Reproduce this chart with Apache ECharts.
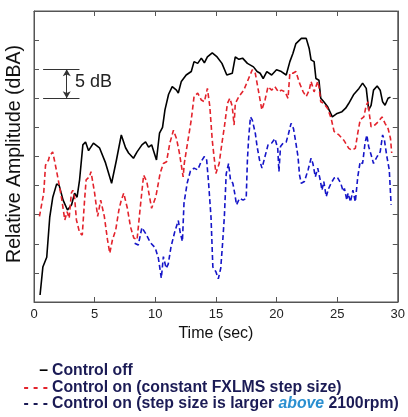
<!DOCTYPE html>
<html>
<head>
<meta charset="utf-8">
<script src="https://cdn.jsdelivr.net/npm/echarts@6/dist/echarts.min.js"></script>
<style>
  html, body { margin: 0; padding: 0; background: #fff; }
  #chart { width: 408px; height: 417px; }
</style>
</head>
<body>
<div id="chart"></div>
<script>
// relative amplitude vs time, three control cases
var names = [
    'Control off',
    'Control on (constant FXLMS step size)',
    'Control on (step size is larger above 2100rpm)'
];
// the legend keys are typed characters in the original figure
var keys = ['\u2013', '- - -', '- - -'];

var xTicks = [0, 5, 10, 15, 20, 25, 30];

// control off
var offT = [0.5, 0.73, 1.05, 1.3, 1.55, 1.87, 2.08, 2.4, 2.76, 3.1, 3.35, 3.55, 3.76, 4.03, 4.25, 4.5, 4.9, 5.4, 5.9, 6.4,
    6.8, 7.2, 7.55, 7.8, 8.2, 8.5, 8.9, 9.2, 9.45, 9.7, 10.1, 10.35, 10.6, 10.8, 11.1, 11.4, 11.75, 11.9, 12.15, 12.55,
    12.97, 13.2, 13.5, 13.8, 14.05, 14.3, 14.7, 15.1, 15.5, 15.9, 16.35, 16.6, 16.9, 17.2, 17.6, 17.85, 18.1, 18.4, 18.65, 18.9,
    19.2, 19.6, 20.0, 20.4, 20.8, 21.1, 21.35, 21.6, 22.05, 22.45, 22.7, 22.85, 23.1, 23.25, 23.5, 23.65, 23.9, 24.2, 24.6, 25.0,
    25.4, 25.7, 25.95, 26.35, 26.8, 27.1, 27.4, 27.6, 27.8, 28.0, 28.3, 28.55, 28.75, 28.95, 29.2, 29.4];
var offV = [1.2, 6, 7.7, 14.6, 18, 20.3, 20, 17.5, 15.8, 16.7, 18.7, 18, 21, 27, 27.5, 26, 27.3, 26.5, 23.9, 20.4,
    24.4, 28.7, 26.5, 25.6, 24.7, 25.8, 27, 27.5, 26.6, 27, 24.4, 29, 30, 33, 35.7, 37, 36.4, 35.9, 37.9, 39,
    39.6, 41.3, 41, 41.9, 41.1, 42.1, 42.8, 42.1, 41, 39, 39.3, 42.1, 41.7, 41.9, 41, 40.7, 40.4, 39.6, 39.3, 38.4,
    39.6, 39, 39.9, 39.6, 39, 41.3, 42.7, 44.4, 45.3, 45.3, 43.5, 41.6, 41.3, 38.4, 38.1, 35, 34.4, 33.6, 31.8, 32.4,
    32.7, 33.3, 34.1, 35.6, 36.7, 37.6, 36.7, 33, 33.8, 36.4, 37.1, 36.4, 34.4, 33.8, 35, 35.2];

// control on, constant step size
var constT = [0.45, 0.8, 0.95, 1.2, 1.27, 1.54, 1.73, 2.0, 2.27, 2.54, 2.73, 2.9, 3.08, 3.2, 3.35, 3.5, 3.76, 3.98, 4.17, 4.3,
    4.57, 4.7, 5.0, 5.25, 5.5, 5.8, 6.06, 6.25, 6.47, 6.74, 7.0, 7.2, 7.4, 7.7, 7.96, 8.23, 8.5, 8.77, 9.04, 9.3,
    9.7, 10.05, 10.4, 10.67, 10.93, 11.2, 11.5, 11.75, 12.0, 12.3, 12.4, 12.7, 12.97, 13.2, 13.5, 13.8, 14.05, 14.3, 14.5, 14.7,
    15.0, 15.27, 15.5, 15.7, 15.95, 16.15, 16.35, 16.5, 16.6, 16.9, 17.3, 17.7, 18.0, 18.25, 18.5, 18.79, 19.05, 19.3, 19.6, 19.87,
    20.15, 20.4, 20.7, 20.95, 21.1, 21.35, 21.6, 21.9, 22.2, 22.45, 22.7, 22.85, 23.1, 23.4, 23.5, 23.65, 23.9, 24.2, 24.5, 24.75,
    25.15, 25.55, 25.96, 26.2, 26.5, 26.7, 26.9, 27.2, 27.4, 27.55, 27.65, 27.8, 28.1, 28.4, 28.7, 28.95, 29.2, 29.4, 29.5];
var constV = [14.7, 18.7, 23.5, 24.4, 25, 25.8, 23.9, 21, 17.9, 14.1, 15.5, 14.4, 18.7, 19.2, 17.9, 14.1, 11.9, 11.5, 17.5, 21,
    21.5, 22.4, 18.7, 14.7, 17.5, 14.7, 10.7, 8.4, 10.7, 12.4, 15.8, 17.5, 18.7, 16.1, 12.9, 11, 10.7, 16.4, 21.8, 20.7,
    16.1, 18.1, 22.1, 23.8, 24.1, 27.3, 29.5, 28.1, 25.5, 21.5, 23.9, 27.8, 31.3, 35.3, 35.9, 34.7, 34.4, 36.7, 33.6, 27.8,
    22.1, 23.8, 27.3, 30.1, 34.1, 35, 33.6, 30.4, 34.1, 35.3, 36.4, 38.4, 39.9, 39.3, 36.4, 33, 34.7, 37, 36.4, 37,
    36.1, 36.4, 36.1, 35, 39.3, 39.3, 39.6, 37.6, 36.1, 35.3, 36.4, 37.9, 36.1, 37.9, 37, 34.4, 34.1, 33.3, 31.6, 29.3,
    28.7, 27.8, 26.4, 26.1, 26.4, 29, 31.3, 31.8, 33.8, 34.4, 32.4, 30.1, 30.4, 31, 31.8, 30.7, 29.8, 28.1, 25.6];

// control on, larger step size above 2100rpm
var largeT = [8.3, 8.6, 8.9, 9.2, 9.6, 10.0, 10.26, 10.5, 10.67, 10.9, 11.07, 11.3, 11.6, 11.9, 12.07, 12.24, 12.37, 12.64, 12.9, 13.2,
    13.5, 13.8, 14.05, 14.24, 14.4, 14.6, 14.75, 15.0, 15.2, 15.4, 15.55, 15.7, 15.85, 16.05, 16.2, 16.4, 16.55, 16.7, 16.95, 17.25,
    17.5, 17.6, 17.7, 17.85, 18.0, 18.25, 18.4, 18.6, 18.8, 19.05, 19.3, 19.6, 19.87, 20.1, 20.2, 20.33, 20.55, 20.8, 21.0, 21.2,
    21.4, 21.6, 21.77, 21.9, 22.04, 22.3, 22.6, 22.85, 23.0, 23.2, 23.4, 23.6, 23.75, 23.9, 24.1, 24.3, 24.5, 24.75, 25.0, 25.3,
    25.5, 25.6, 25.8, 25.9, 26.1, 26.3, 26.5, 26.7, 26.9, 27.1, 27.3, 27.45, 27.6, 27.8, 28.0, 28.3, 28.55, 28.75, 28.9, 29.1,
    29.3, 29.45];
var largeV = [10.1, 9.8, 12.8, 11.8, 10.2, 9.3, 7.5, 4.1, 7.8, 5.8, 6.5, 9.5, 12, 14, 11.8, 10.4, 17, 20.5, 22.5, 23,
    22.7, 24.2, 25, 24.4, 20.4, 14.5, 6, 5.2, 4, 5.8, 10, 14.7, 22, 23.8, 21, 20.4, 18.7, 16.7, 17.8, 17.5,
    17.8, 24.4, 28.1, 31.8, 31.3, 29, 26.7, 24.4, 23, 25, 27, 27.3, 28.1, 26.4, 22.4, 26.7, 27.3, 27.5, 29, 30.7,
    29.8, 27.3, 25, 21.8, 20.4, 20.7, 22.7, 24.7, 23.8, 21.5, 23, 21, 19.2, 20.7, 18.1, 19.5, 20.4, 21.3, 21.5, 20.4,
    19, 19.5, 17.5, 18.7, 17.2, 19.2, 17.2, 21.5, 24.1, 23.8, 27.3, 28.7, 26.7, 25.3, 23.8, 25, 25.8, 28.7, 27.8, 25,
    22.7, 16.7];

// 5 dB scale bar: [t start, t end, t arrow, lower dB, upper dB]
var scaleBar = [0.75, 3.75, 2.7, 35, 40];

function pairs(t, v) {
    return t.map(function (x, i) { return [x, v[i]]; });
}

var font = 'Liberation Sans, Arial, sans-serif';
var frameColor = '#555';
var textNavy = '#1b1b55';
var lineColors = ['#000000', '#e3232c', '#1515c8'];
var keyColors = ['#000000', '#e3232c', textNavy];

var myChart = echarts.init(document.getElementById('chart'));

function xAxisCfg(pos, labels) {
    return {
        type: 'value',
        position: pos,
        min: xTicks[0],
        max: xTicks[xTicks.length - 1],
        interval: 5,
        axisLine: { show: true, onZero: false, lineStyle: { color: frameColor, width: 1 } },
        axisTick: { show: true, inside: true, length: 5, lineStyle: { color: frameColor } },
        axisLabel: { show: labels, fontSize: 13, color: '#222', margin: 6 },
        splitLine: { show: false }
    };
}

function yAxisCfg(pos) {
    return {
        type: 'value',
        position: pos,
        min: 0,
        max: 50,
        interval: 5,
        axisLine: { show: true, onZero: false, lineStyle: { color: frameColor, width: 1 } },
        axisTick: { show: true, inside: true, length: 5, lineStyle: { color: frameColor } },
        axisLabel: { show: false },
        splitLine: { show: false }
    };
}

var xBottom = xAxisCfg('bottom', true);
xBottom.name = 'Time (sec)';
xBottom.nameLocation = 'middle';
xBottom.nameGap = 14;
xBottom.nameTextStyle = { fontSize: 16, color: '#111' };

// texts: y title, scale bar label, legend lines
var texts = [];
texts.push({
    type: 'text',
    x: 15,
    y: 154,
    rotation: Math.PI / 2,
    style: {
        text: 'Relative Amplitude (dBA)',
        fontSize: 19.5,
        fontFamily: font,
        fill: '#111',
        align: 'center',
        verticalAlign: 'middle'
    }
});
texts.push({
    type: 'text',
    left: 75,
    top: 73,
    style: { text: '5 dB', fontSize: 18, fill: '#222', fontFamily: font }
});

// legend drawn as typed text, like the source figure
var legendTop = [363, 380, 396];
names.forEach(function (n, i) {
    texts.push({
        type: 'text',
        right: 408 - 48,
        top: legendTop[i],
        style: { text: keys[i], font: 'bold 15.8px ' + font, fill: keyColors[i] }
    });
    texts.push({
        type: 'text',
        left: 52,
        top: legendTop[i],
        style: {
            text: n.replace('above', '{i|above}'),
            font: 'bold 15.8px ' + font,
            fill: textNavy,
            rich: {
                i: { fontSize: 15.8, fontFamily: font, fontStyle: 'italic', fontWeight: 'bold', fill: '#2a8fd0' }
            }
        }
    });
});

var option = {
    animation: false,
    textStyle: { fontFamily: font },
    grid: { left: 34, right: 5, top: 11, bottom: 115, show: true, borderColor: frameColor, borderWidth: 1 },
    xAxis: [xBottom, xAxisCfg('top', false)],
    yAxis: [yAxisCfg('left'), yAxisCfg('right')],
    graphic: texts,
    series: [
        {
            name: names[0],
            type: 'line',
            symbol: 'none',
            lineStyle: { color: lineColors[0], width: 1.6 },
            data: pairs(offT, offV),
            markLine: {
                silent: true,
                symbol: 'none',
                label: { show: false },
                lineStyle: { color: '#333', type: 'solid', width: 1 },
                data: [
                    [{ coord: [scaleBar[0], scaleBar[4]] }, { coord: [scaleBar[1], scaleBar[4]] }],
                    [{ coord: [scaleBar[0], scaleBar[3]] }, { coord: [scaleBar[1], scaleBar[3]] }],
                    [
                        { coord: [scaleBar[2], scaleBar[4]], symbol: 'arrow', symbolSize: [6, 7] },
                        { coord: [scaleBar[2], scaleBar[3]], symbol: 'arrow', symbolSize: [6, 7] }
                    ]
                ]
            }
        },
        {
            name: names[1],
            type: 'line',
            symbol: 'none',
            lineStyle: { color: lineColors[1], width: 1.6, type: [5, 3] },
            data: pairs(constT, constV)
        },
        {
            name: names[2],
            type: 'line',
            symbol: 'none',
            lineStyle: { color: lineColors[2], width: 1.6, type: [5, 3] },
            data: pairs(largeT, largeV)
        },
        {
            // keeps the top and right frame axes alive
            name: 'frame',
            type: 'line',
            xAxisIndex: 1,
            yAxisIndex: 1,
            symbol: 'none',
            silent: true,
            data: []
        }
    ]
};

myChart.setOption(option);
</script>
</body>
</html>
